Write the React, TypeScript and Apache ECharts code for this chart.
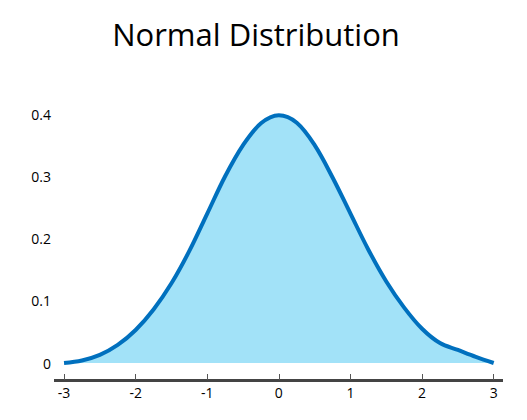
import React, { useEffect, useRef } from "react";
import * as echarts from "echarts";

const xValues = [-3, -2.75, -2.5, -2.25, -2, -1.75, -1.5, -1.25, -1, -0.75, -0.5, -0.25, 0, 0.25, 0.5, 0.75, 1, 1.25, 1.5, 1.75, 2, 2.25, 2.5, 2.75, 3];
const yValues = [0.0, 0.004, 0.013, 0.029, 0.053, 0.086, 0.128, 0.18, 0.24, 0.3, 0.35, 0.385, 0.398, 0.386, 0.35, 0.298, 0.24, 0.182, 0.131, 0.089, 0.055, 0.032, 0.021, 0.01, 0.0];
const xTicks = [-3, -2, -1, 0, 1, 2, 3];
const yTicks = [0, 0.1, 0.2, 0.3, 0.4];
const titleText = "Normal Distribution";

export default function App() {
  const ref = useRef<HTMLDivElement>(null);
  useEffect(() => {
    if (!ref.current) return;
    const chart = echarts.init(ref.current, null, { renderer: "svg" });
    const font = "'Open Sans', sans-serif";
    const xMin = -3.14;
    const xMax = 3.13;
    chart.setOption({
      animation: false,
      backgroundColor: "#ffffff",
      title: {
        text: titleText,
        left: 256,
        top: 18,
        padding: 0,
        textAlign: "center",
        textStyle: { fontFamily: font, fontSize: 31, fontWeight: "normal", color: "#000" },
      },
      grid: [
        { left: 54, right: 24, top: 114, bottom: 57 },
        { left: 54, right: 24, top: 374, bottom: 40 },
      ],
      xAxis: [
        {
          type: "value",
          gridIndex: 0,
          min: xMin,
          max: xMax,
          position: "bottom",
          splitLine: { show: false },
          axisLine: { show: false },
          axisTick: { show: false },
          axisLabel: { customValues: xTicks, margin: 22, color: "#000", fontFamily: font, fontSize: 14 },
        },
        { type: "value", gridIndex: 1, min: xMin, max: xMax, show: false },
      ],
      yAxis: [
        {
          type: "value",
          gridIndex: 0,
          min: 0,
          max: 0.4,
          interval: 0.1,
          splitLine: { show: false },
          axisLine: { show: false },
          axisTick: { show: false },
          axisLabel: {
            customValues: yTicks,
            margin: 3,
            color: "#000",
            fontFamily: font,
            fontSize: 14,
            formatter: (v: number) => String(Math.round(v * 10) / 10),
          },
        },
        { type: "value", gridIndex: 1, min: 0, max: 1, show: false },
      ],
      series: [
        {
          type: "line",
          xAxisIndex: 0,
          yAxisIndex: 0,
          data: xValues.map((x, i) => [x, yValues[i]]),
          smooth: 0.35,
          showSymbol: false,
          lineStyle: { color: "#0070BE", width: 4 },
          areaStyle: { color: "#A2E2F8", opacity: 1 },
        },
        {
          type: "line",
          xAxisIndex: 1,
          yAxisIndex: 1,
          data: [[0, 0]],
          showSymbol: false,
          silent: true,
          clip: false,
          lineStyle: { opacity: 0 },
          markLine: {
            silent: true,
            symbol: "none",
            label: { show: false },
            lineStyle: { color: "#444", width: 3, type: "solid" },
            data: [
              [
                { coord: [xMin, 0], symbol: "none" },
                { coord: [xMax, 0], symbol: "none" },
              ],
              ...xTicks.map((t) => [
                { coord: [t, 0], symbol: "none", lineStyle: { color: "#555", width: 1, type: "solid" } },
                { coord: [t, 1], symbol: "none" },
              ]),
            ],
          },
        },
      ],
    });
    return () => chart.dispose();
  }, []);
  return <div ref={ref} style={{ position: "fixed", left: 0, top: 0, width: 527, height: 420 }} />;
}
